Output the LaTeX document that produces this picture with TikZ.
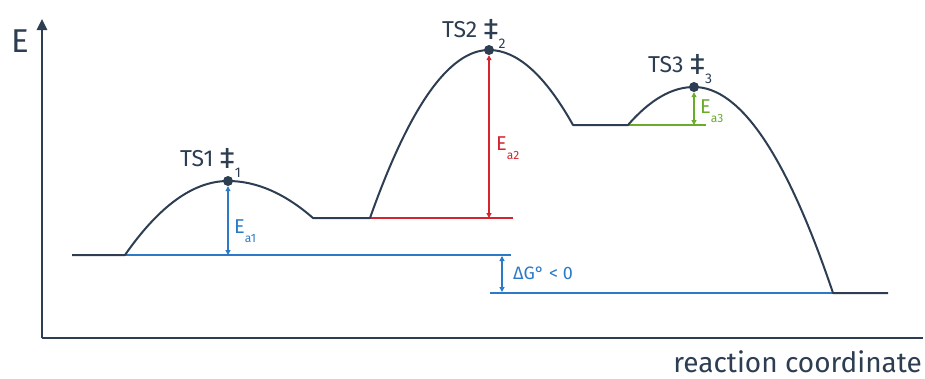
\documentclass[tikz,border=0pt]{standalone}
\usepackage{fontspec}
\setmainfont{Fira Sans}
\usetikzlibrary{arrows.meta}
\definecolor{navy}{RGB}{45,62,82}
\definecolor{eblue}{RGB}{43,122,200}
\definecolor{ered}{RGB}{212,36,46}
\definecolor{egreen}{RGB}{104,172,42}
\newcommand\tssub[1]{\raisebox{-11pt}{\fontsize{14}{14}\selectfont #1}}
\newcommand\bigdaggermark{\raisebox{-2pt}{\fontsize{30}{30}\selectfont ‡}}
\newcommand\easub[1]{\raisebox{-9pt}{\fontsize{12}{12}\selectfont #1}}
\begin{document}
\begin{tikzpicture}[x=1pt,y=-1pt,
  curve/.style={draw=navy,line width=2pt,line join=round},
  axisline/.style={draw=navy,line width=2.5pt},
  dot/.style={circle,fill=navy,minimum size=10pt,inner sep=0pt},
  eline/.style={line width=1.1pt},
  darrow/.style={line width=1.1pt,{Triangle[width=5pt,length=5pt]}-{Triangle[width=5pt,length=5pt]}},
  tslbl/.style={text=navy,inner sep=0pt,anchor=base west,font=\fontsize{23}{23}\selectfont},
  ealbl/.style={inner sep=0pt,anchor=base west,font=\fontsize{20}{20}\selectfont},
  txt/.style={text=navy,inner sep=0pt}]
\useasboundingbox (0,0) rectangle (925,378);
% axes
\coordinate (org) at (42,338);
\coordinate (ytop) at (42,19);
\coordinate (xend) at (923,338);
\draw[axisline,-{Triangle[width=10pt,length=11pt]}] (org) -- (ytop);
\draw[axisline] (org) -- (xend);
\node[txt,font=\fontsize{33}{33}\selectfont,anchor=base west] (elbl) at (11,52) {E};
\node[txt,font=\fontsize{28}{28}\selectfont,anchor=base east] (xlbl) at (922,372) {reaction coordinate};
% key points
\coordinate (s0) at (72,255);
\coordinate (s1) at (125,255);
\coordinate (p1) at (228,181);
\coordinate (i1a) at (313,218);
\coordinate (i1b) at (370,218);
\coordinate (p2) at (489,50);
\coordinate (i2a) at (573,125);
\coordinate (i2b) at (628,125);
\coordinate (p3) at (694,87);
\coordinate (e0) at (833,293);
\coordinate (e1) at (888,293);
% energy reference lines
\coordinate (b1end) at (511,255);
\coordinate (r1end) at (513,218);
\coordinate (g1end) at (706,125);
\coordinate (b2start) at (490,293);
\draw[eline,eblue] (s1) -- (b1end);
\draw[eline,ered] (i1b) -- (r1end);
\draw[eline,egreen] (i2b) -- (g1end);
\draw[eline,eblue] (b2start) -- (e0);
% curve
\draw[curve] (s0) -- (s1)
  .. controls (159.3,205.7) and (193.7,181) .. (p1)
  .. controls (256.3,181) and (284.7,193.3) .. (i1a) -- (i1b)
  .. controls (409.7,106) and (449.3,50) .. (p2)
  .. controls (517,50) and (545,75) .. (i2a) -- (i2b)
  .. controls (650,99.7) and (672,87) .. (p3)
  .. controls (740.3,87) and (786.7,155.7) .. (e0) -- (e1);
% dots
\node[dot] (d1) at (p1) {};
\node[dot] (d2) at (p2) {};
\node[dot] (d3) at (p3) {};
% activation arrows
\coordinate (a1foot) at (228,255);
\coordinate (a2foot) at (489,218);
\coordinate (a3foot) at (694,125);
\draw[darrow,eblue] (d1.south) -- (a1foot);
\draw[darrow,ered] (d2.south) -- (a2foot);
\draw[darrow,egreen] (d3.south) -- (a3foot);
\coordinate (gtop) at (502,256);
\coordinate (gbot) at (502,292);
\draw[darrow,eblue] (gtop) -- (gbot);
% labels
\node[tslbl] (ts1) at (180,166) {TS1 \bigdaggermark\tssub{1}};
\node[tslbl] (ts2) at (442,37) {TS2 \bigdaggermark\tssub{2}};
\node[tslbl] (ts3) at (648,72) {TS3 \bigdaggermark\tssub{3}};
\node[ealbl,text=eblue] (ea1) at (234,233) {E\easub{a1}};
\node[ealbl,text=ered] (ea2) at (496,150) {E\easub{a2}};
\node[ealbl,text=egreen] (ea3) at (700,113) {E\easub{a3}};
\node[inner sep=0pt,anchor=base west,text=eblue,font=\fontsize{18}{18}\selectfont] (dg) at (513,279) {ΔG° < 0};
\end{tikzpicture}
\end{document}
